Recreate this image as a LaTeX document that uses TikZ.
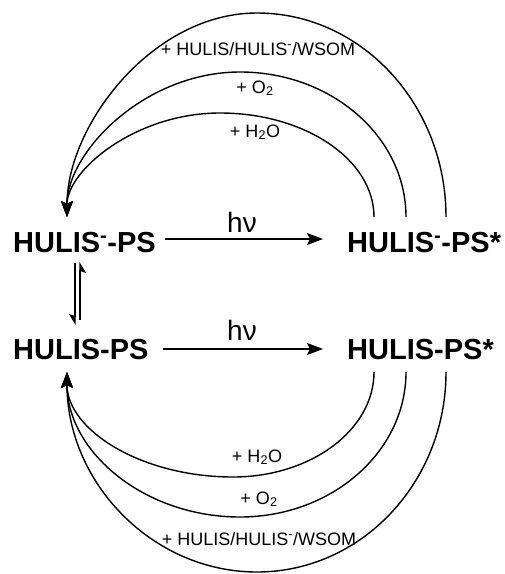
\documentclass[tikz,border=0pt]{standalone}
\usepackage{fontspec}
\setmainfont{Liberation Sans}
\usetikzlibrary{arrows.meta,calc}
\begin{document}
\begin{tikzpicture}[x=1pt,y=-1pt,
  species/.style={font=\fontsize{29}{29}\selectfont\bfseries, inner sep=0pt, anchor=base west},
  lab/.style={font=\fontsize{18}{18}\selectfont, inner sep=0pt, anchor=base},
  hv/.style={font=\fontsize{28}{28}\selectfont, inner sep=0pt, anchor=base},
  conn/.style={line width=1.4pt},
  arr/.style={conn, -{Stealth[length=16pt,width=12pt,inset=3pt]}},
  harp/.style={line width=1.1pt, -{Stealth[length=10pt,width=12pt,inset=2pt,harpoon,swap]}}
]
\useasboundingbox (0,0) rectangle (505,574);

\node[species] (a) at (13,252) {HULIS\textsuperscript{-}-PS};
\node[species] (b) at (347,252) {HULIS\textsuperscript{-}-PS*};
\node[species] (c) at (13,359) {HULIS-PS};
\node[species] (d) at (347,359) {HULIS-PS*};

% photoexcitation
\draw[arr] ($(a.base east)+(9,-13)$) -- ($(b.base west)+(-24,-13)$);
\draw[arr] ($(c.base east)+(14,-10)$) -- ($(d.base west)+(-24,-10)$);
\node[hv] (hv1) at (242,232) {hν};
\node[hv] (hv2) at (242,340) {hν};

% equilibrium
\draw[harp] ($(a.base west)+(62,11)$) -- ($(c.base west)+(62,-34)$);
\draw[harp] ($(c.base west)+(67,-39)$) -- ($(a.base west)+(67,10)$);

% top return arcs
\draw[arr] ($(b.base west)+(27,-35)$) .. controls (374,159.6) and (305,113) .. (220,113)
  .. controls (135.5,113) and (67,170.4) .. ($(a.base west)+(54,-35)$);
\draw[arr] ($(b.base west)+(59,-35)$) .. controls (406,137) and (331.6,72) .. (240,72)
  .. controls (144.5,72) and (67,152) .. ($(a.base west)+(54,-35)$);
\draw[arr] ($(b.base west)+(99,-35)$) .. controls (446,104.4) and (361.3,13) .. (257,13)
  .. controls (152.1,13) and (67,125.6) .. ($(a.base west)+(54,-35)$);

% bottom return arcs
\draw[arr] ($(d.base west)+(27,13)$) .. controls (374,430) and (310.8,477) .. (233,477)
  .. controls (141.4,477) and (67,430) .. ($(c.base west)+(54,13)$);
\draw[arr] ($(d.base west)+(59,13)$) .. controls (406,452) and (331.6,517) .. (240,517)
  .. controls (144.5,517) and (67,452) .. ($(c.base west)+(54,13)$);
\draw[arr] ($(d.base west)+(99,13)$) .. controls (446,482.4) and (361.3,572) .. (257,572)
  .. controls (152.1,572) and (67,482.4) .. ($(c.base west)+(54,13)$);

% labels
\node[lab] (t3) at (258,55) {+ HULIS/HULIS\textsuperscript{-}/WSOM};
\node[lab] (t2) at (255,93) {+ O\textsubscript{2}};
\node[lab] (t1) at (255,137) {+ H\textsubscript{2}O};
\node[lab] (u1) at (257,462) {+ H\textsubscript{2}O};
\node[lab] (u2) at (259,504) {+ O\textsubscript{2}};
\node[lab] (u3) at (259,545) {+ HULIS/HULIS\textsuperscript{-}/WSOM};
\end{tikzpicture}
\end{document}
